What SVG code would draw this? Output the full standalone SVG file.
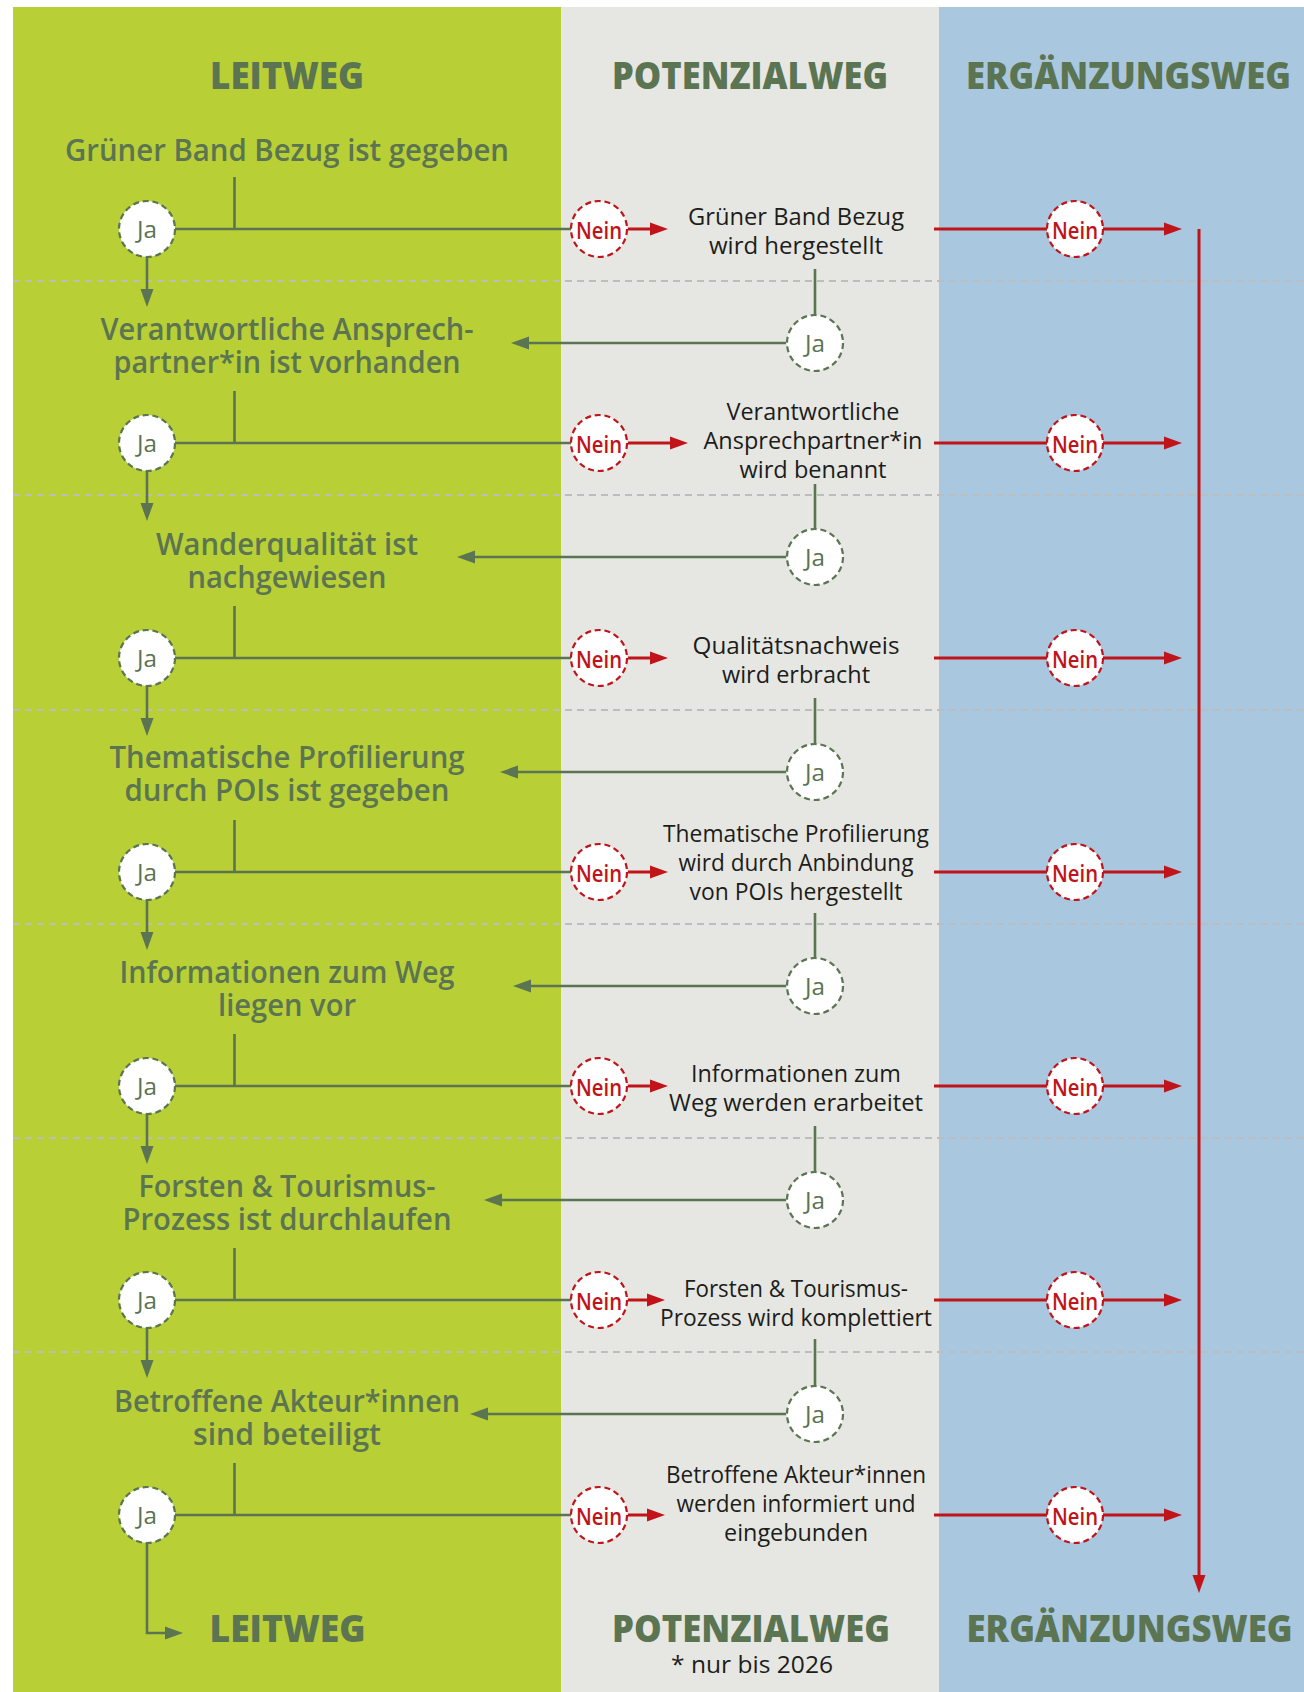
<svg xmlns="http://www.w3.org/2000/svg" width="1304" height="1692" viewBox="0 0 1304 1692">
  <style>
    .h { font-family: "Open Sans", "Liberation Sans", sans-serif; font-weight: 800; font-size: 37px; fill: #5B7452; text-anchor: middle; }
    .q { font-family: "Open Sans", "Liberation Sans", sans-serif; font-weight: 600; font-size: 30px; fill: #5B7452; text-anchor: middle; }
    .p { font-family: "Open Sans", "Liberation Sans", sans-serif; font-weight: 400; font-size: 24px; fill: #1D1D1B; text-anchor: middle; }
    .note { font-family: "Open Sans", "Liberation Sans", sans-serif; font-weight: 400; font-size: 24px; fill: #1D1D1B; text-anchor: middle; }
    .ja circle { fill: #FFFFFF; stroke: #5B7452; stroke-width: 2.2; stroke-dasharray: 6 3.8; }
    .ja text { font-family: "Open Sans", "Liberation Sans", sans-serif; font-weight: 500; font-size: 24px; fill: #5B7452; text-anchor: middle; }
    .nein circle { fill: #FFFFFF; stroke: #C0141A; stroke-width: 2.2; stroke-dasharray: 6 3.8; }
    .nein text { font-family: "Open Sans", "Liberation Sans", sans-serif; font-weight: 600; font-size: 24px; fill: #C0141A; text-anchor: middle; }
    .g { stroke: #5B7452; stroke-width: 2.6; fill: none; }
    .r { stroke: #C0141A; stroke-width: 3; fill: none; }
    .sep { stroke: #BDBDBD; stroke-width: 2; stroke-dasharray: 7 5; fill: none; }
  </style>
  <defs>
    <marker id="arrow-g" markerUnits="userSpaceOnUse" markerWidth="18" markerHeight="14" refX="8" refY="7" orient="auto">
      <path d="M0,0.5 L18,7 L0,13.5 z" fill="#5B7452"/>
    </marker>
    <marker id="arrow-r" markerUnits="userSpaceOnUse" markerWidth="18" markerHeight="14" refX="8" refY="7" orient="auto">
      <path d="M0,0.5 L18,7 L0,13.5 z" fill="#C0141A"/>
    </marker>
  </defs>

  <!-- lanes -->
  <rect x="0" y="0" width="1304" height="1692" fill="#FFFFFF"/>
  <rect x="13" y="7" width="548" height="1685" fill="#B9CF36"/>
  <rect x="561" y="7" width="378" height="1685" fill="#E6E7E2"/>
  <rect x="939" y="7" width="365" height="1685" fill="#A9C7DF"/>

  <!-- row separators -->
  <g id="separators">
    <path class="sep" d="M13,281 H1304"/>
    <path class="sep" d="M13,495 H1304"/>
    <path class="sep" d="M13,710 H1304"/>
    <path class="sep" d="M13,924 H1304"/>
    <path class="sep" d="M13,1138 H1304"/>
    <path class="sep" d="M13,1352 H1304"/>
  </g>

  <!-- lane headings -->
  <g id="head-leitweg"><text class="h" x="287" y="89" textLength="154" lengthAdjust="spacingAndGlyphs">LEITWEG</text></g>
  <g id="head-potenzialweg"><text class="h" x="750" y="89" textLength="276" lengthAdjust="spacingAndGlyphs">POTENZIALWEG</text></g>
  <g id="head-ergaenzungsweg"><text class="h" x="1128.5" y="89" textLength="325" lengthAdjust="spacingAndGlyphs">ERGÄNZUNGSWEG</text></g>

  <!-- connectors -->
  <g id="connectors">
    <!-- ticks from criteria to decision lines -->
    <path class="g" d="M234.5,177 V229"/>
    <path class="g" d="M234.5,391 V443"/>
    <path class="g" d="M234.5,606 V658"/>
    <path class="g" d="M234.5,820 V872"/>
    <path class="g" d="M234.5,1034 V1086"/>
    <path class="g" d="M234.5,1248 V1300"/>
    <path class="g" d="M234.5,1463 V1515"/>
    <!-- decision lines Ja -> Nein -->
    <path class="g" d="M147,229 H599"/>
    <path class="g" d="M147,443 H599"/>
    <path class="g" d="M147,658 H599"/>
    <path class="g" d="M147,872 H599"/>
    <path class="g" d="M147,1086 H599"/>
    <path class="g" d="M147,1300 H599"/>
    <path class="g" d="M147,1515 H599"/>
    <!-- Ja downwards to next criterion -->
    <path class="g" d="M147,257 V297" marker-end="url(#arrow-g)"/>
    <path class="g" d="M147,471 V511" marker-end="url(#arrow-g)"/>
    <path class="g" d="M147,686 V726" marker-end="url(#arrow-g)"/>
    <path class="g" d="M147,900 V940" marker-end="url(#arrow-g)"/>
    <path class="g" d="M147,1114 V1154" marker-end="url(#arrow-g)"/>
    <path class="g" d="M147,1328 V1368" marker-end="url(#arrow-g)"/>
    <path class="g" d="M147,1543 V1633 H173" marker-end="url(#arrow-g)"/>
    <!-- Nein to measures -->
    <path class="r" d="M628,229 H658" marker-end="url(#arrow-r)"/>
    <path class="r" d="M628,443 H678" marker-end="url(#arrow-r)"/>
    <path class="r" d="M628,658 H658" marker-end="url(#arrow-r)"/>
    <path class="r" d="M628,872 H658" marker-end="url(#arrow-r)"/>
    <path class="r" d="M628,1086 H658" marker-end="url(#arrow-r)"/>
    <path class="r" d="M628,1300 H655" marker-end="url(#arrow-r)"/>
    <path class="r" d="M628,1515 H655" marker-end="url(#arrow-r)"/>
    <!-- measures to Ja (back to Leitweg) -->
    <path class="g" d="M815,269 V314"/>
    <path class="g" d="M815,484 V528"/>
    <path class="g" d="M815,698 V743"/>
    <path class="g" d="M815,913 V957"/>
    <path class="g" d="M815,1126 V1171"/>
    <path class="g" d="M815,1339 V1385"/>
    <path class="g" d="M786,343 H521" marker-end="url(#arrow-g)"/>
    <path class="g" d="M786,557 H467" marker-end="url(#arrow-g)"/>
    <path class="g" d="M786,772 H510" marker-end="url(#arrow-g)"/>
    <path class="g" d="M786,986 H523" marker-end="url(#arrow-g)"/>
    <path class="g" d="M786,1200 H494" marker-end="url(#arrow-g)"/>
    <path class="g" d="M786,1414 H480" marker-end="url(#arrow-g)"/>
    <!-- measures failing -> Ergänzungsweg -->
    <path class="r" d="M934,229 H1172" marker-end="url(#arrow-r)"/>
    <path class="r" d="M934,443 H1172" marker-end="url(#arrow-r)"/>
    <path class="r" d="M934,658 H1172" marker-end="url(#arrow-r)"/>
    <path class="r" d="M934,872 H1172" marker-end="url(#arrow-r)"/>
    <path class="r" d="M934,1086 H1172" marker-end="url(#arrow-r)"/>
    <path class="r" d="M934,1300 H1172" marker-end="url(#arrow-r)"/>
    <path class="r" d="M934,1515 H1172" marker-end="url(#arrow-r)"/>
    <path class="r" d="M1199,229 V1583" stroke-width="2.6" marker-end="url(#arrow-r)"/>
  </g>

  <!-- criteria (Leitweg) -->
  <g id="q1"><text class="q" x="287" y="161" textLength="444" lengthAdjust="spacingAndGlyphs">Grüner Band Bezug ist gegeben</text></g>
  <g id="q2">
    <text class="q" x="287" y="340" textLength="373" lengthAdjust="spacingAndGlyphs">Verantwortliche Ansprech-</text>
    <text class="q" x="287" y="373" textLength="347" lengthAdjust="spacingAndGlyphs">partner*in ist vorhanden</text>
  </g>
  <g id="q3">
    <text class="q" x="287" y="555" textLength="262" lengthAdjust="spacingAndGlyphs">Wanderqualität ist</text>
    <text class="q" x="287" y="588" textLength="199" lengthAdjust="spacingAndGlyphs">nachgewiesen</text>
  </g>
  <g id="q4">
    <text class="q" x="287" y="768" textLength="355" lengthAdjust="spacingAndGlyphs">Thematische Profilierung</text>
    <text class="q" x="287" y="801" textLength="325" lengthAdjust="spacingAndGlyphs">durch POIs ist gegeben</text>
  </g>
  <g id="q5">
    <text class="q" x="287" y="983" textLength="335" lengthAdjust="spacingAndGlyphs">Informationen zum Weg</text>
    <text class="q" x="287" y="1016" textLength="138" lengthAdjust="spacingAndGlyphs">liegen vor</text>
  </g>
  <g id="q6">
    <text class="q" x="287" y="1197" textLength="297" lengthAdjust="spacingAndGlyphs">Forsten &amp; Tourismus-</text>
    <text class="q" x="287" y="1230" textLength="329" lengthAdjust="spacingAndGlyphs">Prozess ist durchlaufen</text>
  </g>
  <g id="q7">
    <text class="q" x="287" y="1412" textLength="346" lengthAdjust="spacingAndGlyphs">Betroffene Akteur*innen</text>
    <text class="q" x="287" y="1445" textLength="188" lengthAdjust="spacingAndGlyphs">sind beteiligt</text>
  </g>

  <!-- measures (Potenzialweg) -->
  <g id="p1">
    <text class="p" x="796" y="225" textLength="216" lengthAdjust="spacingAndGlyphs">Grüner Band Bezug</text>
    <text class="p" x="796" y="254" textLength="174" lengthAdjust="spacingAndGlyphs">wird hergestellt</text>
  </g>
  <g id="p2">
    <text class="p" x="813" y="420" textLength="173" lengthAdjust="spacingAndGlyphs">Verantwortliche</text>
    <text class="p" x="813" y="449" textLength="219" lengthAdjust="spacingAndGlyphs">Ansprechpartner*in</text>
    <text class="p" x="813" y="478" textLength="147" lengthAdjust="spacingAndGlyphs">wird benannt</text>
  </g>
  <g id="p3">
    <text class="p" x="796" y="654" textLength="207" lengthAdjust="spacingAndGlyphs">Qualitätsnachweis</text>
    <text class="p" x="796" y="683" textLength="148" lengthAdjust="spacingAndGlyphs">wird erbracht</text>
  </g>
  <g id="p4">
    <text class="p" x="796" y="842" textLength="266" lengthAdjust="spacingAndGlyphs">Thematische Profilierung</text>
    <text class="p" x="796" y="871" textLength="235" lengthAdjust="spacingAndGlyphs">wird durch Anbindung</text>
    <text class="p" x="796" y="900" textLength="213" lengthAdjust="spacingAndGlyphs">von POIs hergestellt</text>
  </g>
  <g id="p5">
    <text class="p" x="796" y="1082" textLength="210" lengthAdjust="spacingAndGlyphs">Informationen zum</text>
    <text class="p" x="796" y="1111" textLength="254" lengthAdjust="spacingAndGlyphs">Weg werden erarbeitet</text>
  </g>
  <g id="p6">
    <text class="p" x="796" y="1297" textLength="224" lengthAdjust="spacingAndGlyphs">Forsten &amp; Tourismus-</text>
    <text class="p" x="796" y="1326" textLength="272" lengthAdjust="spacingAndGlyphs">Prozess wird komplettiert</text>
  </g>
  <g id="p7">
    <text class="p" x="796" y="1483" textLength="260" lengthAdjust="spacingAndGlyphs">Betroffene Akteur*innen</text>
    <text class="p" x="796" y="1512" textLength="239" lengthAdjust="spacingAndGlyphs">werden informiert und</text>
    <text class="p" x="796" y="1541" textLength="144" lengthAdjust="spacingAndGlyphs">eingebunden</text>
  </g>

  <!-- decisions: Ja (criterion met) -->
  <g id="ja-1" class="ja"><circle cx="147" cy="229" r="28"/><text x="147" y="238" textLength="20" lengthAdjust="spacingAndGlyphs">Ja</text></g>
  <g id="ja-2" class="ja"><circle cx="147" cy="443" r="28"/><text x="147" y="452" textLength="20" lengthAdjust="spacingAndGlyphs">Ja</text></g>
  <g id="ja-3" class="ja"><circle cx="147" cy="658" r="28"/><text x="147" y="667" textLength="20" lengthAdjust="spacingAndGlyphs">Ja</text></g>
  <g id="ja-4" class="ja"><circle cx="147" cy="872" r="28"/><text x="147" y="881" textLength="20" lengthAdjust="spacingAndGlyphs">Ja</text></g>
  <g id="ja-5" class="ja"><circle cx="147" cy="1086" r="28"/><text x="147" y="1095" textLength="20" lengthAdjust="spacingAndGlyphs">Ja</text></g>
  <g id="ja-6" class="ja"><circle cx="147" cy="1300" r="28"/><text x="147" y="1309" textLength="20" lengthAdjust="spacingAndGlyphs">Ja</text></g>
  <g id="ja-7" class="ja"><circle cx="147" cy="1515" r="28"/><text x="147" y="1524" textLength="20" lengthAdjust="spacingAndGlyphs">Ja</text></g>

  <!-- decisions: Nein (criterion not met) -->
  <g id="nein-1" class="nein"><circle cx="599" cy="229" r="28"/><text x="599" y="239" textLength="46" lengthAdjust="spacingAndGlyphs">Nein</text></g>
  <g id="nein-2" class="nein"><circle cx="599" cy="443" r="28"/><text x="599" y="453" textLength="46" lengthAdjust="spacingAndGlyphs">Nein</text></g>
  <g id="nein-3" class="nein"><circle cx="599" cy="658" r="28"/><text x="599" y="668" textLength="46" lengthAdjust="spacingAndGlyphs">Nein</text></g>
  <g id="nein-4" class="nein"><circle cx="599" cy="872" r="28"/><text x="599" y="882" textLength="46" lengthAdjust="spacingAndGlyphs">Nein</text></g>
  <g id="nein-5" class="nein"><circle cx="599" cy="1086" r="28"/><text x="599" y="1096" textLength="46" lengthAdjust="spacingAndGlyphs">Nein</text></g>
  <g id="nein-6" class="nein"><circle cx="599" cy="1300" r="28"/><text x="599" y="1310" textLength="46" lengthAdjust="spacingAndGlyphs">Nein</text></g>
  <g id="nein-7" class="nein"><circle cx="599" cy="1515" r="28"/><text x="599" y="1525" textLength="46" lengthAdjust="spacingAndGlyphs">Nein</text></g>

  <!-- decisions: measure succeeded -->
  <g id="ja-p1" class="ja"><circle cx="815" cy="343" r="28"/><text x="815" y="352" textLength="20" lengthAdjust="spacingAndGlyphs">Ja</text></g>
  <g id="ja-p2" class="ja"><circle cx="815" cy="557" r="28"/><text x="815" y="566" textLength="20" lengthAdjust="spacingAndGlyphs">Ja</text></g>
  <g id="ja-p3" class="ja"><circle cx="815" cy="772" r="28"/><text x="815" y="781" textLength="20" lengthAdjust="spacingAndGlyphs">Ja</text></g>
  <g id="ja-p4" class="ja"><circle cx="815" cy="986" r="28"/><text x="815" y="995" textLength="20" lengthAdjust="spacingAndGlyphs">Ja</text></g>
  <g id="ja-p5" class="ja"><circle cx="815" cy="1200" r="28"/><text x="815" y="1209" textLength="20" lengthAdjust="spacingAndGlyphs">Ja</text></g>
  <g id="ja-p6" class="ja"><circle cx="815" cy="1414" r="28"/><text x="815" y="1423" textLength="20" lengthAdjust="spacingAndGlyphs">Ja</text></g>

  <!-- decisions: measure failed -->
  <g id="nein-p1" class="nein"><circle cx="1075" cy="229" r="28"/><text x="1075" y="239" textLength="46" lengthAdjust="spacingAndGlyphs">Nein</text></g>
  <g id="nein-p2" class="nein"><circle cx="1075" cy="443" r="28"/><text x="1075" y="453" textLength="46" lengthAdjust="spacingAndGlyphs">Nein</text></g>
  <g id="nein-p3" class="nein"><circle cx="1075" cy="658" r="28"/><text x="1075" y="668" textLength="46" lengthAdjust="spacingAndGlyphs">Nein</text></g>
  <g id="nein-p4" class="nein"><circle cx="1075" cy="872" r="28"/><text x="1075" y="882" textLength="46" lengthAdjust="spacingAndGlyphs">Nein</text></g>
  <g id="nein-p5" class="nein"><circle cx="1075" cy="1086" r="28"/><text x="1075" y="1096" textLength="46" lengthAdjust="spacingAndGlyphs">Nein</text></g>
  <g id="nein-p6" class="nein"><circle cx="1075" cy="1300" r="28"/><text x="1075" y="1310" textLength="46" lengthAdjust="spacingAndGlyphs">Nein</text></g>
  <g id="nein-p7" class="nein"><circle cx="1075" cy="1515" r="28"/><text x="1075" y="1525" textLength="46" lengthAdjust="spacingAndGlyphs">Nein</text></g>

  <!-- outcomes -->
  <g id="end-leitweg"><text class="h" x="287.5" y="1642" textLength="156" lengthAdjust="spacingAndGlyphs">LEITWEG</text></g>
  <g id="end-potenzialweg">
    <text class="h" x="751" y="1642" textLength="278" lengthAdjust="spacingAndGlyphs">POTENZIALWEG</text>
    <text class="note" x="752" y="1673" textLength="162" lengthAdjust="spacingAndGlyphs">* nur bis 2026</text>
  </g>
  <g id="end-ergaenzungsweg"><text class="h" x="1129.5" y="1642" textLength="326" lengthAdjust="spacingAndGlyphs">ERGÄNZUNGSWEG</text></g>
</svg>
